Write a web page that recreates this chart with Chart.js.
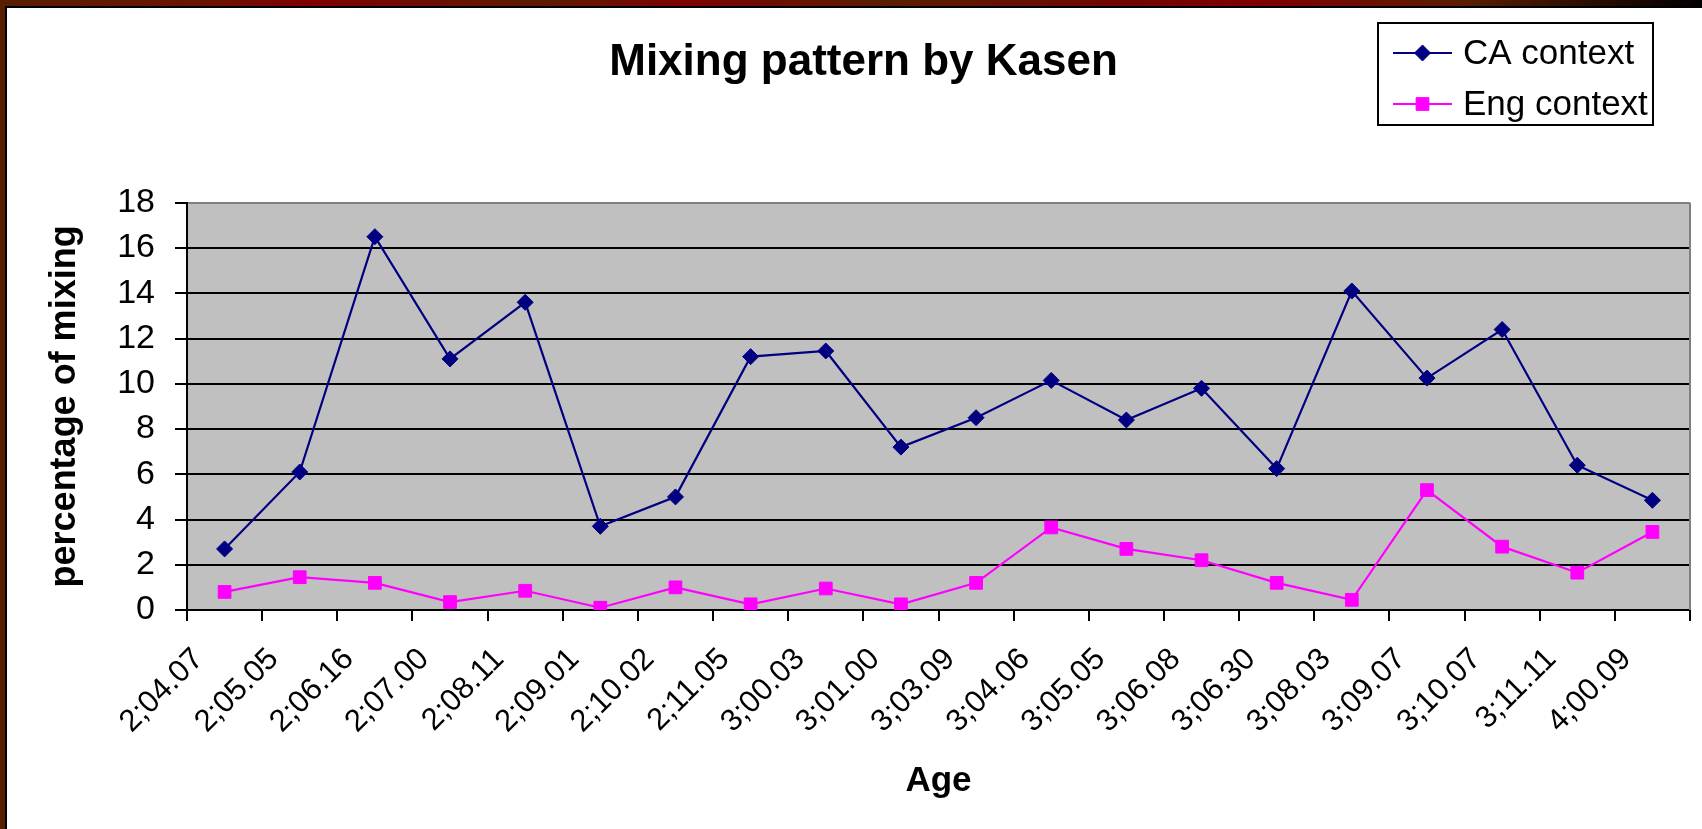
<!DOCTYPE html>
<html>
<head>
<meta charset="utf-8">
<title>Mixing pattern by Kasen</title>
<script src="https://cdn.jsdelivr.net/npm/chart.js@4.4.1/dist/chart.umd.min.js"></script>
<style>
  html, body { margin: 0; padding: 0; width: 1702px; height: 829px; overflow: hidden; }
  body {
    position: relative;
    background: linear-gradient(to right, #5a1e00 0%, #6a1400 12%, #800000 18%, #5c1c00 32%, #7e0200 40%, #5a1e00 52%, #700800 65%, #800000 74%, #5a1e00 86%, #1a0800 96%, #000 100%);
  }
  #frame {
    position: absolute; left: 5px; top: 6px;
    width: 1695px; height: 821px;
    border-left: 2px solid #000; border-top: 2px solid #000;
    background: #fff;
  }
  canvas { display: block; }
</style>
</head>
<body>
<div id="frame"><canvas id="chart" width="1695" height="821"></canvas></div>
<script>
// Età (anni;mesi.giorni)
const ages = ['2;04.07', '2;05.05', '2;06.16', '2;07.00', '2;08.11', '2;09.01', '2;10.02',
  '2;11.05', '3;00.03', '3;01.00', '3;03.09', '3;04.06', '3;05.05', '3;06.08', '3;06.30',
  '3;08.03', '3;09.07', '3;10.07', '3;11.11', '4;00.09'];

const caContext = [2.7, 6.1, 16.5, 11.1, 13.6, 3.7, 5.0, 11.2, 11.45, 7.2,
  8.5, 10.15, 8.4, 9.8, 6.25, 14.1, 10.25, 12.4, 6.4, 4.85];

const engContext = [0.8, 1.45, 1.2, 0.35, 0.85, 0.1, 1.0, 0.25, 0.95, 0.25,
  1.2, 3.65, 2.7, 2.2, 1.2, 0.45, 5.3, 2.8, 1.65, 3.45];

const yTicks = [0, 2, 4, 6, 8, 10, 12, 14, 16, 18];

const FONT = '"Liberation Sans", Arial, sans-serif';

// Sfondo grigio dell'area del grafico e bordo destro
const plotArea = {
  id: 'plotArea',
  beforeDraw(chart) {
    const { ctx, chartArea: a } = chart;
    ctx.save();
    ctx.fillStyle = '#c0c0c0';
    ctx.fillRect(a.left, a.top, a.right - a.left, a.bottom - a.top);
    ctx.restore();
  },
  beforeDatasetsDraw(chart) {
    const { ctx, chartArea: a } = chart;
    ctx.save();
    ctx.strokeStyle = '#808080';
    ctx.lineWidth = 2;
    ctx.beginPath();
    ctx.moveTo(a.right, a.top);
    ctx.lineTo(a.right, a.bottom);
    ctx.stroke();
    ctx.restore();
  }
};

// Legenda in riquadro in alto a destra
const legendBox = {
  id: 'legendBox',
  afterDraw(chart) {
    const ctx = chart.ctx;
    ctx.save();
    ctx.strokeStyle = '#000';
    ctx.lineWidth = 2;
    ctx.strokeRect(1371, 15, 275, 102);
    ctx.font = '35px ' + FONT;
    ctx.textBaseline = 'middle';
    chart.data.datasets.forEach((ds, i) => {
      const y = 45 + i * 51;
      ctx.strokeStyle = ds.borderColor;
      ctx.lineWidth = 2;
      ctx.beginPath();
      ctx.moveTo(1386, y);
      ctx.lineTo(1445, y);
      ctx.stroke();
      ctx.fillStyle = ds.pointBackgroundColor;
      ctx.lineWidth = 1;
      Chart.helpers.drawPoint(ctx, { pointStyle: ds.pointStyle, radius: ds.pointRadius, borderWidth: 1 }, 1415.5, y);
      ctx.fillStyle = '#000';
      ctx.fillText(ds.label, 1456, y + 1);
    });
    ctx.restore();
  }
};

new Chart(document.getElementById('chart'), {
  type: 'line',
  data: {
    labels: ages,
    datasets: [
      {
        label: 'CA context',
        data: caContext,
        borderColor: '#000080',
        backgroundColor: '#000080',
        pointBackgroundColor: '#000080',
        pointBorderColor: '#000080',
        borderWidth: 2.2,
        pointStyle: 'rectRot',
        pointRadius: 8,
        pointBorderWidth: 1,
        tension: 0
      },
      {
        label: 'Eng context',
        data: engContext,
        borderColor: '#ff00ff',
        backgroundColor: '#ff00ff',
        pointBackgroundColor: '#ff00ff',
        pointBorderColor: '#ff00ff',
        borderWidth: 2.2,
        pointStyle: 'rect',
        pointRadius: 9,
        pointBorderWidth: 1,
        tension: 0
      }
    ]
  },
  options: {
    responsive: false,
    animation: false,
    layout: { padding: { left: 30, right: 12, top: 0, bottom: 0 } },
    plugins: {
      legend: { display: false },
      tooltip: { enabled: false },
      title: {
        display: true,
        text: 'Mixing pattern by Kasen',
        color: '#000',
        font: { family: FONT, size: 44, weight: 'bold' },
        padding: { top: 28, bottom: 114 }
      }
    },
    scales: {
      x: {
        offset: true,
        afterFit(scale) { scale.height = 219; },
        border: { display: true, color: '#000', width: 2 },
        grid: {
          display: true,
          offset: true,
          drawOnChartArea: false,
          drawTicks: true,
          tickLength: 11,
          color: '#000',
          lineWidth: 2
        },
        ticks: {
          color: '#000',
          font: { family: FONT, size: 31 },
          autoSkip: false,
          maxRotation: 45,
          minRotation: 45,
          padding: 20,
          labelOffset: -26
        },
        title: {
          display: true,
          text: 'Age',
          color: '#000',
          font: { family: FONT, size: 35, weight: 'bold' },
          padding: { top: 0, bottom: 27 }
        }
      },
      y: {
        min: 0,
        max: 18,
        afterFit(scale) { scale.width = 150; },
        afterBuildTicks(scale) { scale.ticks = yTicks.map(v => ({ value: v })); },
        border: { display: true, color: '#000', width: 2 },
        grid: {
          color: ctx => (ctx.tick && ctx.tick.value === 18 ? '#808080' : '#000'),
          tickColor: '#000',
          lineWidth: 2,
          tickLength: 12
        },
        ticks: {
          color: '#000',
          font: { family: FONT, size: 34 },
          padding: 20
        },
        title: {
          display: true,
          text: 'percentage of mixing',
          color: '#000',
          font: { family: FONT, size: 36, weight: 'bold' },
          padding: { top: 6, bottom: 0 }
        }
      }
    }
  },
  plugins: [plotArea, legendBox]
});
</script>
</body>
</html>
